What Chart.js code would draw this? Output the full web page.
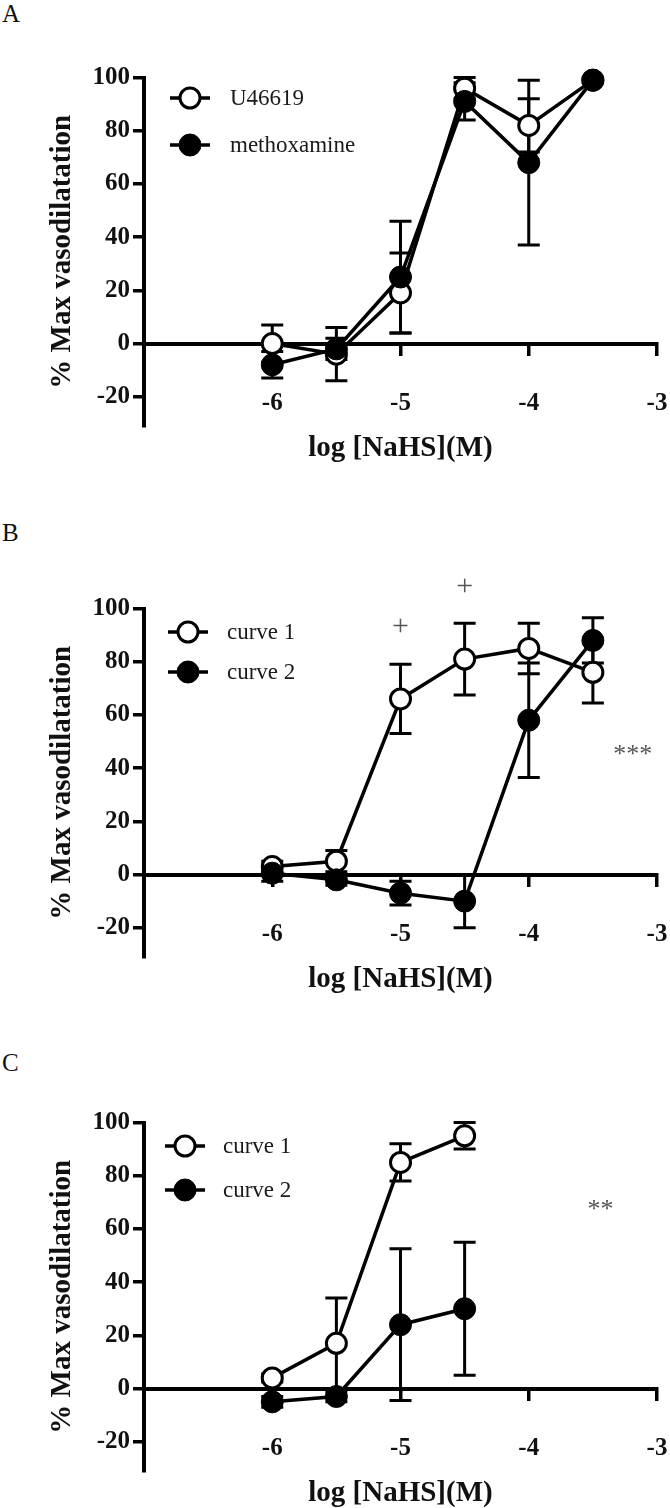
<!DOCTYPE html>
<html><head><meta charset="utf-8">
<script src="https://cdn.jsdelivr.net/npm/chart.js@4.4.1/dist/chart.umd.min.js"></script>
<style>
html,body{margin:0;padding:0;background:#fff;}
body{width:670px;height:1508px;position:relative;overflow:hidden;font-family:"Liberation Serif",serif;}
.panel{position:absolute;left:0;width:670px;}
.letter{position:absolute;left:2px;font-size:25px;line-height:25px;color:#111;}
.leg{position:absolute;height:30px;font-size:23px;color:#1a1a1a;display:flex;align-items:center;white-space:nowrap;}
.leg svg{display:block;}
</style></head><body>
<div class="letter" style="top:1px">A</div>
<div class="letter" style="top:520px">B</div>
<div class="letter" style="top:1050px">C</div>
<div class="panel" style="top:0;height:531px"><canvas id="cA"></canvas></div>
<div class="panel" style="top:531px;height:514px"><canvas id="cB"></canvas></div>
<div class="panel" style="top:1045px;height:463px"><canvas id="cC"></canvas></div>
<script>
// ---------- data ----------
const xValues = [-6, -5.5, -5, -4.5, -4, -3.5];
const xValuesC = [-6, -5.5, -5, -4.5];
const xTicks = [-6, -5, -4, -3];
const yTicks = [-20, 0, 20, 40, 60, 80, 100];
const xTitle = 'log [NaHS](M)';
const yTitle = '% Max vasodilatation';

// Panel A
const aLabels = ['U46619', 'methoxamine'];
const aOpen = [0, -4, 19, 96, 82, 99];
const aOpenErr = [7, 10, 15, 4, 10, 1];
const aFilled = [-8, -2, 25, 91, 68, 99];
const aFilledErr = [5, 4, 21, 7, 31, 1];

// Panel B
const bLabels = ['curve 1', 'curve 2'];
const bOpen = [3, 5, 66, 81, 85, 76];
const bOpenErr = [2, 4, 13, 13.5, 9.5, 11.5];
const bFilled = [0.5, -2, -7, -10, 58, 88];
const bFilledErr = [3, 2, 4.5, 10, 21.5, 8.5];
const bMarkText = ['+', '+', '***'];
const bMarkX = [-5, -4.5, -3.19];
const bMarkY = [93, 108, 45];

// Panel C
const cLabels = ['curve 1', 'curve 2'];
const cOpen = [4, 17, 85, 95];
const cOpenErr = [1.5, 17, 7, 5];
const cFilled = [-5, -3, 24, 30];
const cFilledErr = [2, 2, 28.5, 25];
const cMarkText = ['**'];
const cMarkX = [-3.44];
const cMarkY = [67];

// ---------- rendering ----------
const FONT = 'Liberation Serif';
const errorBars = {
  id: 'errorBars',
  beforeDatasetsDraw(chart) {
    const {ctx, scales: {x, y}} = chart;
    ctx.save();
    ctx.strokeStyle = '#000';
    ctx.lineWidth = 3;
    chart.data.datasets.forEach(ds => {
      if (!ds.errors) return;
      ds.data.forEach((p, i) => {
        const e = ds.errors[i];
        if (!e) return;
        const px = x.getPixelForValue(p.x);
        const t = y.getPixelForValue(p.y + e), b = y.getPixelForValue(p.y - e);
        ctx.beginPath();
        ctx.moveTo(px, t); ctx.lineTo(px, b);
        ctx.moveTo(px - 11, t); ctx.lineTo(px + 11, t);
        ctx.moveTo(px - 11, b); ctx.lineTo(px + 11, b);
        ctx.stroke();
      });
    });
    ctx.restore();
  }
};
const marksPlugin = {
  id: 'marks',
  afterDatasetsDraw(chart, args, opts) {
    if (!opts.text) return;
    const {ctx, scales: {x, y}} = chart;
    ctx.save();
    ctx.fillStyle = '#555';
    ctx.textAlign = 'center';
    ctx.textBaseline = 'middle';
    opts.text.forEach((t, i) => {
      ctx.font = (t === '+' ? '30px ' : '26px ') + '"' + FONT + '"';
      ctx.fillText(t, x.getPixelForValue(opts.xs[i]), y.getPixelForValue(opts.ys[i]));
    });
    ctx.restore();
  }
};

function pts(xs, ys) { return xs.map((v, i) => ({x: v, y: ys[i]})); }

function makeChart(id, h, xs, open, openErr, filled, filledErr, labels, marks) {
  const el = document.getElementById(id);
  el.parentNode.style.height = h + 'px';
  return new Chart(el, {
    type: 'line',
    data: {
      datasets: [
        {label: labels[0], data: pts(xs, open), errors: openErr, order: 2,
         borderColor: '#000', borderWidth: 3.5, pointStyle: 'circle', pointRadius: 10,
         pointBorderWidth: 3, pointBackgroundColor: '#fff', pointBorderColor: '#000', clip: false},
        {label: labels[1], data: pts(xs, filled), errors: filledErr, order: 1,
         borderColor: '#000', borderWidth: 3.5, pointStyle: 'circle', pointRadius: 11,
         pointBorderWidth: 1, pointBackgroundColor: '#000', pointBorderColor: '#000', clip: false}
      ]
    },
    options: {
      responsive: true, maintainAspectRatio: false, animation: false,
      layout: {padding: {left: 0, right: 11, top: 77.5, bottom: h - 426}},
      plugins: {legend: {display: false}, tooltip: {enabled: false},
        marks: marks || {}},
      scales: {
        x: {
          type: 'linear', min: -7, max: -3, position: {y: 0},
          afterBuildTicks: s => { s.ticks = xTicks.map(v => ({value: v})); },
          afterFit: s => { s.paddingLeft = 0; s.paddingRight = 0; },
          ticks: {font: {family: FONT, size: 25, weight: 'bold'}, color: '#111', padding: 35, maxRotation: 0, autoSkip: false},
          grid: {drawOnChartArea: false, drawTicks: true, tickLength: 10, color: '#000', lineWidth: 3.5},
          border: {display: true, color: '#000', width: 4},
          title: {display: true, text: xTitle, color: '#111', font: {family: FONT, size: 29, weight: 'bold'}, padding: {top: -22, bottom: 0}}
        },
        y: {
          type: 'linear', min: -31, max: 100, position: 'left',
          afterBuildTicks: s => { s.ticks = yTicks.map(v => ({value: v})); },
          afterFit: s => { s.width = 144; s.paddingTop = 0; s.paddingBottom = 0; },
          ticks: {font: {family: FONT, size: 25, weight: 'bold'}, color: '#111', padding: 3, autoSkip: false},
          grid: {drawOnChartArea: false, drawTicks: true, tickLength: 11, color: '#000', lineWidth: 3.5},
          border: {display: true, color: '#000', width: 4},
          title: {display: true, text: yTitle, color: '#111', font: {family: FONT, size: 29, weight: 'bold'}, padding: {top: 45, bottom: 0}}
        }
      }
    },
    plugins: [errorBars, marksPlugin]
  });
}

makeChart('cA', 531, xValues, aOpen, aOpenErr, aFilled, aFilledErr, aLabels);
makeChart('cB', 514, xValues, bOpen, bOpenErr, bFilled, bFilledErr, bLabels, {text: bMarkText, xs: bMarkX, ys: bMarkY});
makeChart('cC', 463, xValuesC, cOpen, cOpenErr, cFilled, cFilledErr, cLabels, {text: cMarkText, xs: cMarkX, ys: cMarkY});

// ---------- legends (HTML text) ----------
function marker(filled) {
  return '<svg width="40" height="30" viewBox="0 0 40 30"><line x1="0" y1="15" x2="40" y2="15" stroke="#000" stroke-width="3.5"/>' +
    '<circle cx="20" cy="15" r="' + (filled ? 11 : 10) + '" fill="' + (filled ? '#000' : '#fff') + '" stroke="#000" stroke-width="' + (filled ? 1 : 3) + '"/></svg>';
}
function legend(labels, cx, cys, textX) {
  labels.forEach((lab, i) => {
    const d = document.createElement('div');
    d.className = 'leg';
    d.style.left = (cx - 20) + 'px';
    d.style.top = (cys[i] - 15) + 'px';
    d.innerHTML = marker(i === 1) + '<span style="margin-left:' + (textX - cx - 20) + 'px">' + lab + '</span>';
    document.body.appendChild(d);
  });
}
legend(aLabels, 190, [98, 145], 230);
legend(bLabels, 188, [632, 672], 227);
legend(cLabels, 185, [1146, 1190], 223);
</script>
</body></html>
